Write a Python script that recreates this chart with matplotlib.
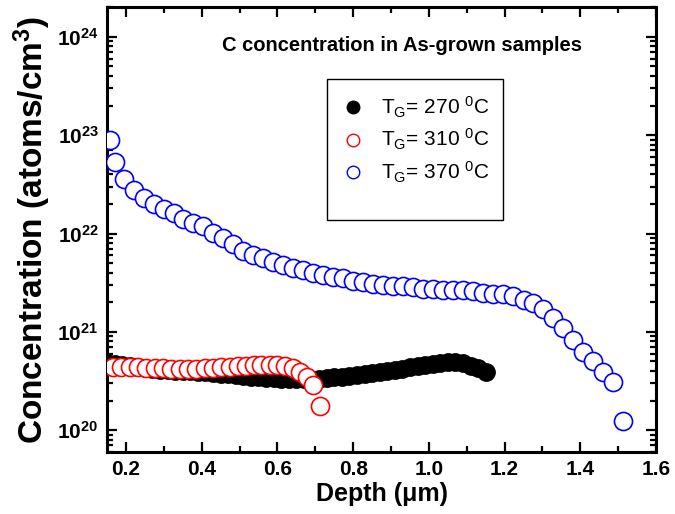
import matplotlib
matplotlib.use("Agg")
import math
import matplotlib.pyplot as plt
from matplotlib.ticker import MultipleLocator, LogLocator, FixedLocator, FuncFormatter, NullFormatter
from matplotlib.patches import Rectangle
from matplotlib.lines import Line2D

plt.rcParams['font.family'] = ['Liberation Sans', 'DejaVu Sans']
plt.rcParams['mathtext.fontset'] = 'custom'
plt.rcParams['mathtext.rm'] = 'Liberation Sans'
plt.rcParams['mathtext.it'] = 'Liberation Sans:italic'
plt.rcParams['mathtext.bf'] = 'Liberation Sans:bold'

# T_G = 270 C (filled, dense profile)
depth_270 = [0.15, 0.17, 0.19, 0.21, 0.23, 0.25, 0.27, 0.29, 0.31, 0.33,
             0.35, 0.37, 0.39, 0.41, 0.43, 0.45, 0.47, 0.49, 0.51, 0.53,
             0.55, 0.57, 0.59, 0.61, 0.63, 0.65, 0.67, 0.69, 0.71, 0.73,
             0.75, 0.77, 0.79, 0.81, 0.83, 0.85, 0.87, 0.89, 0.91, 0.93,
             0.95, 0.97, 0.99, 1.01, 1.03, 1.05, 1.07, 1.09, 1.11, 1.13, 1.15]
conc_270 = [4.80e20, 4.68e20, 4.56e20, 4.46e20, 4.38e20, 4.30e20, 4.22e20, 4.14e20, 4.08e20, 4.04e20,
            4.00e20, 3.96e20, 3.92e20, 3.87e20, 3.81e20, 3.75e20, 3.69e20, 3.63e20, 3.57e20, 3.51e20,
            3.45e20, 3.41e20, 3.37e20, 3.34e20, 3.32e20, 3.30e20, 3.28e20, 3.26e20, 3.28e20, 3.37e20,
            3.45e20, 3.51e20, 3.57e20, 3.64e20, 3.72e20, 3.80e20, 3.90e20, 4.00e20, 4.10e20, 4.22e20,
            4.35e20, 4.49e20, 4.63e20, 4.75e20, 4.85e20, 4.95e20, 4.94e20, 4.80e20, 4.52e20, 4.28e20, 3.95e20]

# T_G = 310 C
depth_310 = [0.166, 0.188, 0.210, 0.232, 0.254, 0.276, 0.298, 0.320, 0.342, 0.364,
             0.386, 0.408, 0.430, 0.452, 0.474, 0.496, 0.518, 0.538, 0.558, 0.580,
             0.600, 0.620, 0.640, 0.660, 0.678, 0.695, 0.713]
conc_310 = [4.40e20, 4.40e20, 4.40e20, 4.35e20, 4.30e20, 4.30e20, 4.25e20, 4.20e20, 4.20e20, 4.20e20,
            4.20e20, 4.25e20, 4.30e20, 4.35e20, 4.40e20, 4.45e20, 4.50e20, 4.55e20, 4.60e20, 4.65e20,
            4.60e20, 4.45e20, 4.25e20, 3.90e20, 3.45e20, 2.85e20, 1.75e20]

# T_G = 370 C
depth_370 = [0.158, 0.171, 0.196, 0.221, 0.248, 0.275, 0.300, 0.327, 0.351, 0.378,
             0.404, 0.431, 0.457, 0.484, 0.510, 0.535, 0.561, 0.589, 0.616, 0.642,
             0.667, 0.693, 0.720, 0.746, 0.773, 0.799, 0.825, 0.852, 0.878, 0.905,
             0.931, 0.958, 0.985, 1.010, 1.036, 1.063, 1.089, 1.116, 1.142, 1.169,
             1.195, 1.221, 1.250, 1.276, 1.302, 1.327, 1.353, 1.380, 1.406, 1.433,
             1.459, 1.486, 1.512]
conc_370 = [8.9e22, 5.3e22, 3.55e22, 2.8e22, 2.3e22, 2.0e22, 1.78e22, 1.62e22, 1.41e22, 1.29e22,
            1.18e22, 1.02e22, 9.1e21, 7.9e21, 6.6e21, 6.1e21, 5.6e21, 5.1e21, 4.8e21, 4.5e21,
            4.25e21, 4.0e21, 3.75e21, 3.6e21, 3.5e21, 3.33e21, 3.2e21, 3.1e21, 3.0e21, 2.95e21,
            2.9e21, 2.84e21, 2.75e21, 2.7e21, 2.67e21, 2.65e21, 2.65e21, 2.6e21, 2.5e21, 2.45e21,
            2.4e21, 2.3e21, 2.13e21, 1.95e21, 1.7e21, 1.38e21, 1.1e21, 8.3e20, 6.3e20, 5.0e20,
            3.9e20, 3.1e20, 1.23e20]

labels = [r'T$_{\mathrm{G}}$= 270 $^{\mathrm{0}}$C',
          r'T$_{\mathrm{G}}$= 310 $^{\mathrm{0}}$C',
          r'T$_{\mathrm{G}}$= 370 $^{\mathrm{0}}$C']
y_decades = [20, 21, 22, 23, 24]

fig = plt.figure(figsize=(6.75, 5.14), dpi=100)
ax = fig.add_axes([0.1585, 0.1206, 0.8135, 0.8652])

ms = 13
ax.plot(depth_270, conc_270, 'o', color='black', ms=12.5, mec='black', zorder=2)
ax.plot(depth_310, conc_310, 'o', mfc='white', mec='red', mew=1.2, ms=ms, zorder=3)
ax.plot(depth_370, conc_370, 'o', mfc='white', mec='blue', mew=1.2, ms=ms, zorder=3)

ax.set_yscale('log')
ax.set_xlim(0.15, 1.6)
ax.set_ylim(6e19, 2e24)

ax.xaxis.set_major_locator(MultipleLocator(0.2))
ax.xaxis.set_minor_locator(MultipleLocator(0.1))
ax.xaxis.set_major_formatter(FuncFormatter(lambda v, p: '%.1f' % v))
ax.yaxis.set_major_locator(FixedLocator([10.0 ** d for d in y_decades]))
ax.yaxis.set_minor_locator(LogLocator(base=10, subs=range(2, 10), numticks=20))
ax.yaxis.set_minor_formatter(NullFormatter())
ax.yaxis.set_major_formatter(FuncFormatter(
    lambda v, p: r'10$^{\mathbf{%d}}$' % round(math.log10(v))))

ax.tick_params(which='both', direction='in', top=True, right=True, width=1.6)
ax.tick_params(which='major', length=7, labelsize=15, pad=6)
ax.tick_params(which='minor', length=4)
for lab in ax.get_xticklabels() + ax.get_yticklabels():
    lab.set_fontweight('bold')
for sp in ax.spines.values():
    sp.set_linewidth(2.2)

ax.set_xlabel('Depth (μm)', fontsize=18, fontweight='bold', labelpad=2)
ax.set_ylabel(r'Concentration (atoms/cm$^{\mathbf{3}}$)', fontsize=24, fontweight='bold', labelpad=3)

ax.text(0.537, 0.915, 'C concentration in As-grown samples', transform=ax.transAxes,
        ha='center', va='center', fontsize=14.5, fontweight='bold')

# legend box
ax.add_patch(Rectangle((0.401, 0.522), 0.32, 0.317, transform=ax.transAxes,
                       fill=False, edgecolor='black', linewidth=1.0, zorder=4))
handles = [Line2D([], [], ls='none', marker='o', color='black', ms=9),
           Line2D([], [], ls='none', marker='o', mfc='white', mec='red', mew=1.0, ms=9),
           Line2D([], [], ls='none', marker='o', mfc='white', mec='blue', mew=1.0, ms=9)]
ax.legend(handles, labels, loc='upper left', bbox_to_anchor=(0.41, 0.822), frameon=False,
          fontsize=15, handlelength=1.2, handletextpad=0.75, labelspacing=0.35, borderaxespad=0)

fig.savefig('out.png', dpi=100)
